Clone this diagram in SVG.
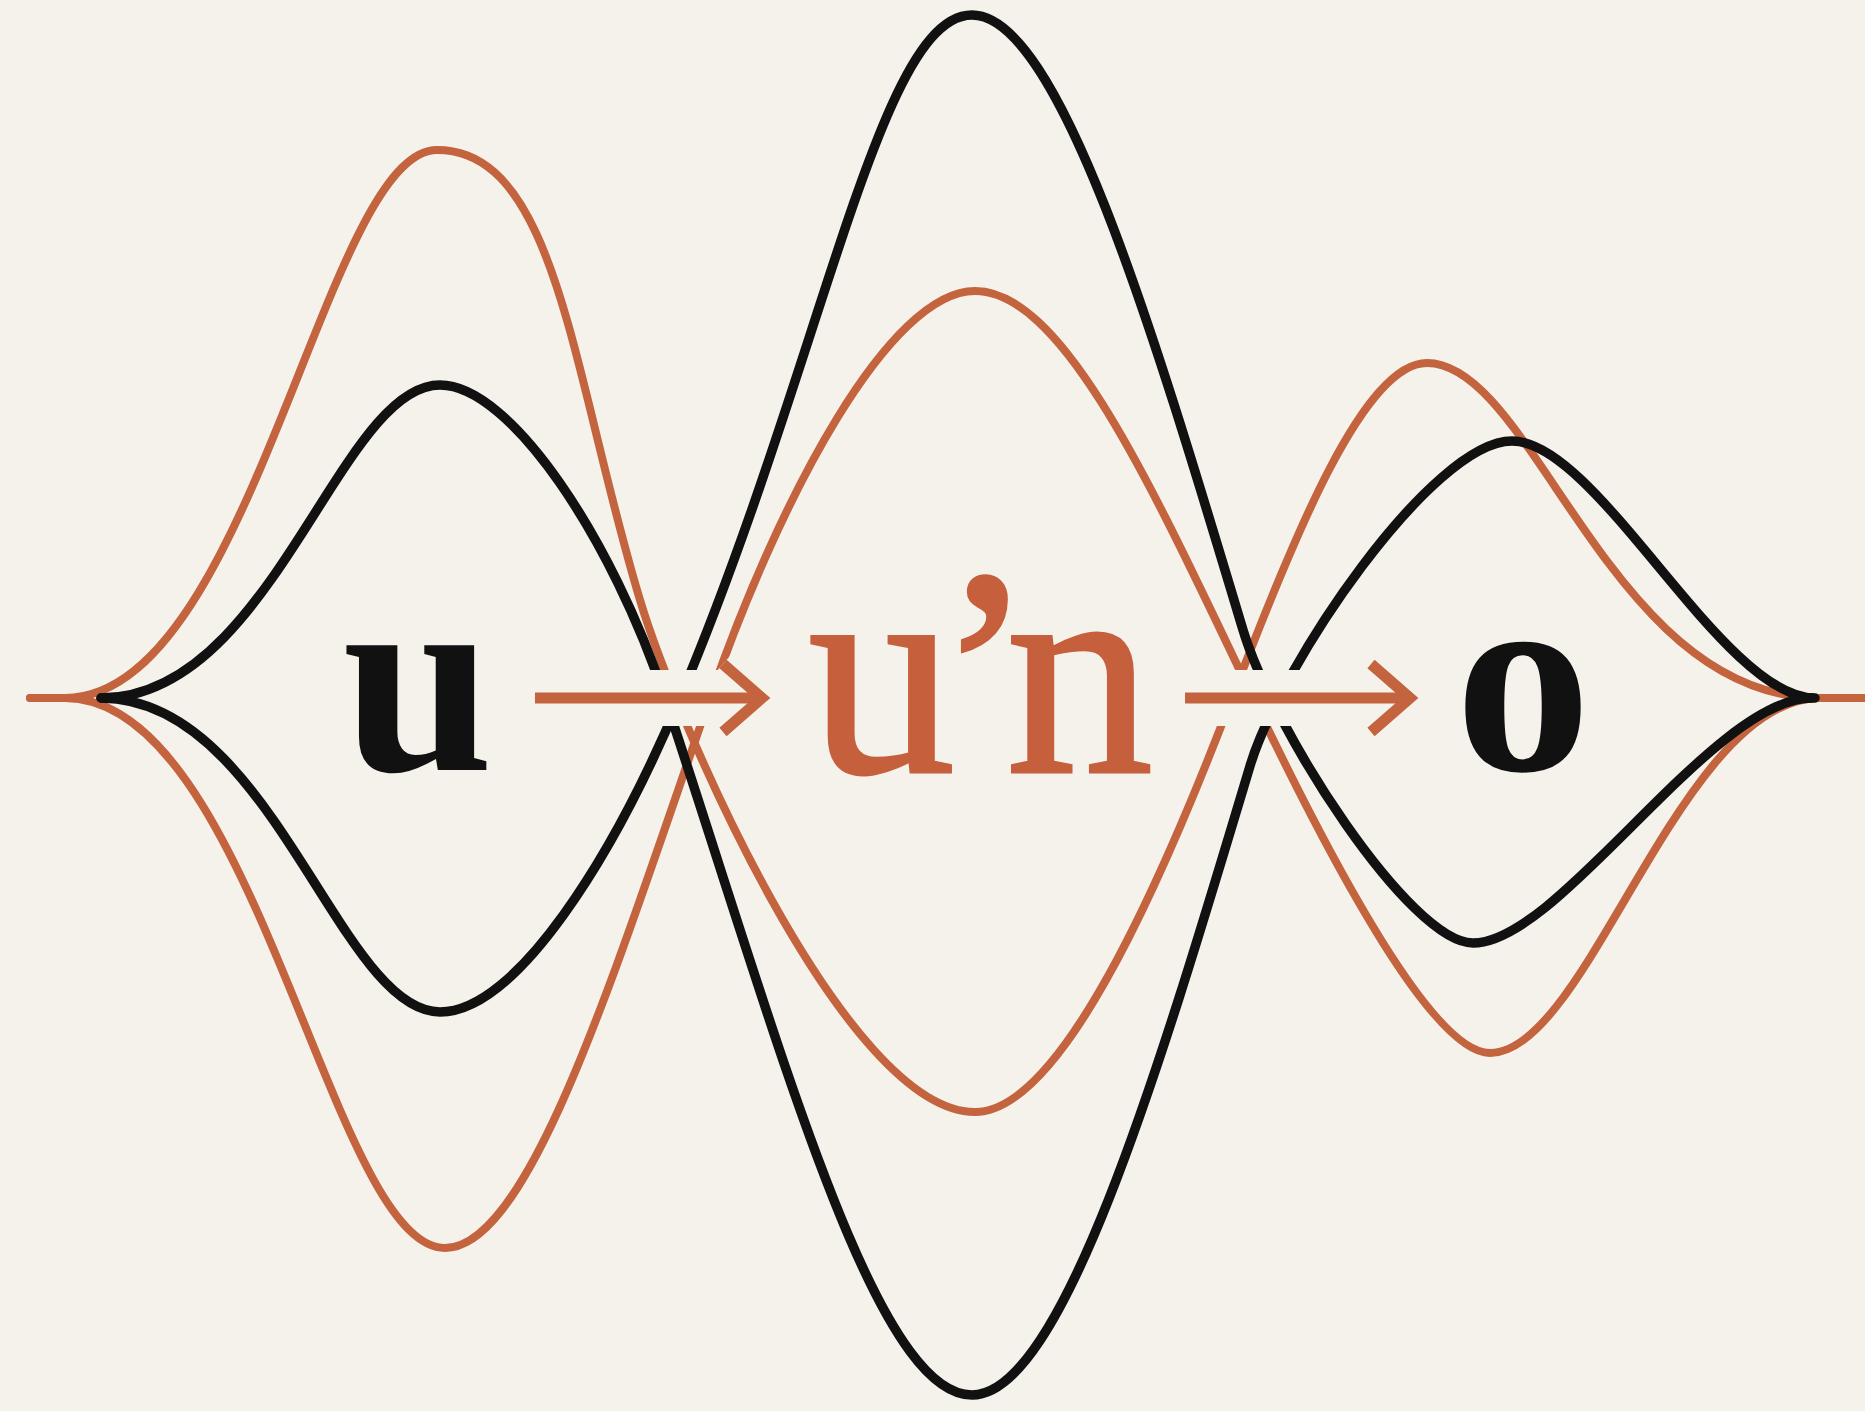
<svg xmlns="http://www.w3.org/2000/svg" width="1865" height="1411" viewBox="0 0 1865 1411">
<style>
.bg{fill:#f5f2eb}
.wk{fill:none;stroke:#111111;stroke-width:9.5;stroke-linecap:round;stroke-linejoin:round}
.wo{fill:none;stroke:#c4643f;stroke-width:8;stroke-linecap:round;stroke-linejoin:round}
.halo{fill:none;stroke:#f5f2eb;stroke-width:56;stroke-linecap:butt;stroke-linejoin:round}
.arr{fill:none;stroke:#c4643f;stroke-width:11;stroke-linecap:butt;stroke-linejoin:miter}
.tk{font-family:"Liberation Serif","Times New Roman",serif;font-weight:700;font-size:272px;fill:#111111}
.to{font-family:"Liberation Serif","Times New Roman",serif;font-weight:400;font-size:295px;fill:#c65f3c;stroke:#c65f3c;stroke-width:3}
</style>
<rect class="bg" x="0" y="0" width="1865" height="1411"/>
<g id="waves">
<path class="wo" d="M30,698 L65,698 C251,698 325,150 437,150 C557,150 572,375 640,600 C676,720 845,1112 975,1112 C1057,1112 1153,905 1232,698 C1296,530 1365,363 1427,363 C1534,363 1610,698 1820,698 L1870,698"/>
<path class="wo" d="M30,698 L65,698 C255,698 331,1248 445,1248 C530,1248 614,973 710,698 C781,494 890,291 975,291 C1065,291 1155,494 1253,698 C1338,876 1435,1053 1490,1053 C1588,1053 1680,698 1820,698 L1870,698"/>
<path class="wk" d="M101,698 C272,698 339,385 440,385 C511,385 613,541 665,698 C780,1046 874,1395 972,1395 C1061,1395 1156,1080 1250,766 C1280,666 1432,441 1512,441 C1598,441 1722,698 1815,698"/>
<path class="wk" d="M101,698 C272,698 339,1012 440,1012 C516,1012 613,858 680,698 C824,356 879,15 972,15 C1059,15 1153,330 1243,630 C1273,730 1410,943 1473,943 C1560,943 1712,698 1812,698"/>
</g>
<g id="connectors">
<g id="arrow-u-un">
<path class="halo" d="M535,698 H762 M723,664 L762,698 L723,732"/>
<path class="arr" d="M535,698 H760"/>
<path class="arr" d="M723,664 L762,698 L723,732"/>
</g>
<g id="arrow-un-o">
<path class="halo" d="M1185,698 H1410 M1371,664 L1410,698 L1371,732"/>
<path class="arr" d="M1185,698 H1408"/>
<path class="arr" d="M1371,664 L1410,698 L1371,732"/>
</g>
</g>
<g id="node-u"><text class="tk" x="418" y="770" text-anchor="middle">u</text></g>
<g id="node-un"><text class="to" x="808" y="772" dx="0 -19 -29">u’n</text></g>
<g id="node-o"><text class="tk" x="1523" y="770" text-anchor="middle">o</text></g>
</svg>
